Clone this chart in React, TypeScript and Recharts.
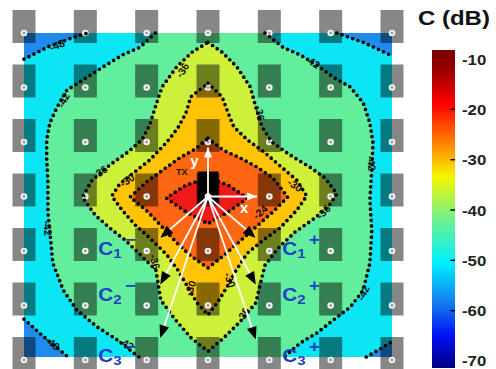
import React from "react";
import {
  ScatterChart,
  Scatter,
  XAxis,
  YAxis,
  ComposedChart,
  Area,
  ReferenceLine,
} from "recharts";

type P = { x: number; y: number };

// element grid (columns / rows of the receiver array, TX at 0,0)
const GRID_COLS = [-3, -2, -1, 0, 1, 2, 3];
const GRID_ROWS = [3, 2, 1, 0, -1, -2, -3];

// coloured field
const FIELD: P[] = [
  { x: -3, y: 3 },
  { x: 3, y: 3 },
  { x: 3, y: -2.945 },
  { x: -3, y: -2.945 },
];

// -48 dB contour, four corners
const C48_TL: P[] = [{ x: -3, y: 2.52 }, { x: -2.6, y: 2.75 }, { x: -2.2, y: 2.92 }, { x: -1.95, y: 3 }];
const C48_TR: P[] = [{ x: 2.1, y: 3 }, { x: 2.55, y: 2.82 }, { x: 3, y: 2.58 }];
const C48_BL: P[] = [{ x: -3, y: -2.25 }, { x: -2.65, y: -2.6 }, { x: -2.28, y: -2.945 }];
const C48_BR: P[] = [{ x: 2.58, y: -2.945 }, { x: 2.8, y: -2.8 }, { x: 3, y: -2.66 }];

// -42 dB contour, left and right branches (top to bottom)
const C42_L: P[] = [
  { x: -0.86, y: 3 }, { x: -1.11, y: 2.74 }, { x: -1.39, y: 2.6 }, { x: -1.71, y: 2.38 },
  { x: -2.04, y: 2.14 }, { x: -2.3, y: 1.95 }, { x: -2.46, y: 1.64 }, { x: -2.58, y: 1.35 },
  { x: -2.63, y: 1.04 }, { x: -2.63, y: 0.67 }, { x: -2.61, y: 0.3 }, { x: -2.61, y: -0.3 },
  { x: -2.58, y: -0.62 }, { x: -2.53, y: -1.22 }, { x: -2.36, y: -1.72 }, { x: -2.14, y: -2.08 },
  { x: -1.81, y: -2.39 }, { x: -1.48, y: -2.63 }, { x: -1.2, y: -2.88 }, { x: -1.12, y: -2.945 },
];
const C42_R: P[] = [
  { x: 0.93, y: 3 }, { x: 1.22, y: 2.74 }, { x: 1.5, y: 2.6 }, { x: 1.78, y: 2.41 },
  { x: 2.04, y: 2.19 }, { x: 2.32, y: 2.01 }, { x: 2.53, y: 1.72 }, { x: 2.64, y: 1.35 },
  { x: 2.69, y: 0.98 }, { x: 2.67, y: 0.49 }, { x: 2.64, y: -0.06 }, { x: 2.67, y: -0.62 },
  { x: 2.64, y: -1.22 }, { x: 2.53, y: -1.72 }, { x: 2.32, y: -2.03 }, { x: 2.04, y: -2.27 },
  { x: 1.78, y: -2.5 }, { x: 1.5, y: -2.69 }, { x: 1.24, y: -2.945 },
];

// -36 dB contour (closed star)
const C36: P[] = [
  { x: 0, y: 2.83 }, { x: 0.23, y: 2.65 }, { x: 0.47, y: 2.38 }, { x: 0.69, y: 2.01 },
  { x: 0.78, y: 1.64 }, { x: 0.88, y: 1.28 }, { x: 1.04, y: 1.0 }, { x: 1.34, y: 0.76 },
  { x: 1.66, y: 0.54 }, { x: 1.91, y: 0.34 }, { x: 2.1, y: 0.05 }, { x: 1.96, y: -0.19 },
  { x: 1.7, y: -0.43 }, { x: 1.42, y: -0.65 }, { x: 1.14, y: -0.95 }, { x: 0.93, y: -1.26 },
  { x: 0.85, y: -1.62 }, { x: 0.78, y: -1.95 }, { x: 0.52, y: -2.3 }, { x: 0.25, y: -2.6 },
  { x: 0, y: -2.84 }, { x: -0.27, y: -2.6 }, { x: -0.54, y: -2.25 }, { x: -0.77, y: -1.9 },
  { x: -0.85, y: -1.35 }, { x: -1.11, y: -1.06 }, { x: -1.35, y: -0.8 }, { x: -1.6, y: -0.58 },
  { x: -1.84, y: -0.34 }, { x: -2.05, y: -0.01 }, { x: -1.89, y: 0.3 }, { x: -1.6, y: 0.58 },
  { x: -1.3, y: 0.82 }, { x: -1.08, y: 1.04 }, { x: -0.95, y: 1.31 }, { x: -0.86, y: 1.64 },
  { x: -0.75, y: 2.01 }, { x: -0.51, y: 2.38 }, { x: -0.26, y: 2.65 },
];

// -30 dB contour
const C30: P[] = [
  { x: 0, y: 2.08 }, { x: 0.23, y: 1.83 }, { x: 0.33, y: 1.53 }, { x: 0.42, y: 1.28 },
  { x: 0.64, y: 1.04 }, { x: 0.91, y: 0.82 }, { x: 1.22, y: 0.52 }, { x: 1.45, y: 0.3 },
  { x: 1.61, y: 0.01 }, { x: 1.45, y: -0.25 }, { x: 1.17, y: -0.58 }, { x: 0.9, y: -0.8 },
  { x: 0.64, y: -1.04 }, { x: 0.46, y: -1.35 }, { x: 0.31, y: -1.66 }, { x: 0.15, y: -1.95 },
  { x: 0, y: -2.17 }, { x: -0.18, y: -1.95 }, { x: -0.33, y: -1.66 }, { x: -0.49, y: -1.35 },
  { x: -0.67, y: -1.07 }, { x: -0.95, y: -0.76 }, { x: -1.19, y: -0.52 }, { x: -1.4, y: -0.25 },
  { x: -1.57, y: 0.01 }, { x: -1.44, y: 0.23 }, { x: -1.22, y: 0.43 }, { x: -0.95, y: 0.67 },
  { x: -0.67, y: 1.0 }, { x: -0.49, y: 1.26 }, { x: -0.36, y: 1.53 }, { x: -0.28, y: 1.83 },
];

// -24 dB contour
const C24: P[] = [
  { x: 0, y: 1.07 }, { x: 0.25, y: 0.85 }, { x: 0.52, y: 0.71 }, { x: 0.8, y: 0.54 },
  { x: 1.06, y: 0.34 }, { x: 1.3, y: -0.01 }, { x: 1.06, y: -0.28 }, { x: 0.8, y: -0.54 },
  { x: 0.52, y: -0.82 }, { x: 0.25, y: -1.09 }, { x: 0, y: -1.31 }, { x: -0.28, y: -1.09 },
  { x: -0.51, y: -0.85 }, { x: -0.73, y: -0.58 }, { x: -0.98, y: -0.28 }, { x: -1.27, y: -0.01 },
  { x: -1.0, y: 0.27 }, { x: -0.73, y: 0.49 }, { x: -0.46, y: 0.71 }, { x: -0.21, y: 0.87 },
];

// -18 dB contour
const C18: P[] = [
  { x: 0, y: 0.34 }, { x: 0.33, y: 0.21 }, { x: 0.64, y: -0.03 }, { x: 0.33, y: -0.28 },
  { x: 0, y: -0.5 }, { x: -0.36, y: -0.28 }, { x: -0.68, y: -0.03 }, { x: -0.36, y: 0.21 },
];

const CONTOUR_LABELS = [
  { x: -2.46, y: 2.78, text: "-48", angle: -22 },
  { x: -2.36, y: 1.77, text: "-42", angle: -62 },
  { x: -0.42, y: 2.32, text: "-36", angle: -58 },
  { x: 1.71, y: 2.47, text: "-42", angle: 32 },
  { x: 0.85, y: 1.53, text: "-36", angle: 80 },
  { x: 2.67, y: 0.61, text: "-42", angle: 85 },
  { x: -1.76, y: 0.45, text: "-36", angle: -35 },
  { x: -1.32, y: 0.3, text: "-30", angle: -35 },
  { x: 1.42, y: 0.21, text: "-30", angle: 35 },
  { x: 1.88, y: -0.28, text: "-36", angle: -45 },
  { x: -2.61, y: -0.58, text: "-42", angle: 85 },
  { x: -1.33, y: -2.7, text: "-42", angle: 30 },
  { x: -2.53, y: -2.69, text: "-48", angle: 40 },
  { x: 2.53, y: -1.77, text: "-42", angle: -65 },
  { x: -0.29, y: -1.68, text: "-30", angle: -70 },
  { x: 0.36, y: -1.53, text: "-30", angle: 70 },
  { x: -0.86, y: -1.2, text: "-36", angle: 75 },
  { x: 0.57, y: -2.17, text: "-36", angle: -60 },
  { x: 0.85, y: -0.28, text: "-24", angle: -40 },
];

const ORIGIN: P = { x: 0, y: 0 };
const AXIS_TIPS: P[] = [{ x: 0.8, y: 0 }, { x: 0, y: 0.9 }];
const LINK_TIPS: P[] = [
  { x: -0.78, y: -0.76 }, { x: -0.78, y: -1.62 }, { x: -0.78, y: -2.6 },
  { x: 0.78, y: -0.76 }, { x: 0.78, y: -1.62 }, { x: 0.78, y: -2.63 },
];
const AXIS_LABELS = [
  { x: 0.52, y: -0.3, text: "x", color: "#ffffff", size: 15 },
  { x: -0.29, y: 0.56, text: "y", color: "#ffffff", size: 15 },
  { x: -0.52, y: 0.39, text: "TX", color: "#1a1a1a", size: 9 },
];
const PAIR_LABELS = [
  { x: -1.79, y: -0.83, idx: "1", sign: "\u2212" },
  { x: -1.79, y: -1.68, idx: "2", sign: "\u2212" },
  { x: -1.79, y: -2.8, idx: "3", sign: "\u2212" },
  { x: 1.21, y: -0.83, idx: "1", sign: "+" },
  { x: 1.21, y: -1.68, idx: "2", sign: "+" },
  { x: 1.21, y: -2.8, idx: "3", sign: "+" },
];

const CBAR_TICKS = [-10, -20, -30, -40, -50, -60, -70];
const CBAR_INNER_TICKS = [-20, -30, -40, -50, -60];
const CBAR_RANGE = [
  { x: 0, r: [-71.4, -8.2] },
  { x: 1, r: [-71.4, -8.2] },
];

const FONT = "Arial, 'Liberation Sans', Helvetica, sans-serif";

const pathOf = (pts: { x: number; y: number }[], closed: boolean) =>
  pts.map((p, i) => `${i ? "L" : "M"}${p.x.toFixed(1)},${p.y.toFixed(1)}`).join("") + (closed ? "Z" : "");

const noDot = () => <g />;

function fillLayer(key: string, pts: P[], color: string) {
  return (
    <Scatter
      key={key}
      data={pts}
      isAnimationActive={false}
      shape={noDot}
      line={(p: any) => <path d={pathOf(p.points, true)} fill={color} stroke="none" />}
    />
  );
}

function dotLayer(key: string, pts: P[], closed: boolean) {
  return (
    <Scatter
      key={key}
      data={pts}
      isAnimationActive={false}
      shape={noDot}
      line={(p: any) => (
        <path
          d={pathOf(p.points, closed)}
          fill="none"
          stroke="#050505"
          strokeWidth={3.7}
          strokeDasharray="0 5.6"
          strokeLinecap="round"
        />
      )}
    />
  );
}

function arrowLayer(key: string, tip: P, shaft: string, head: string, len: number, half: number) {
  return (
    <Scatter
      key={key}
      data={[ORIGIN, tip]}
      isAnimationActive={false}
      shape={noDot}
      line={(p: any) => {
        const [a, b] = p.points;
        const dx = b.x - a.x;
        const dy = b.y - a.y;
        const d = Math.hypot(dx, dy) || 1;
        const ux = dx / d;
        const uy = dy / d;
        const bx = b.x - ux * len;
        const by = b.y - uy * len;
        const pts = `${b.x},${b.y} ${bx - uy * half},${by + ux * half} ${bx + uy * half},${by - ux * half}`;
        return (
          <g>
            <line x1={a.x} y1={a.y} x2={b.x} y2={b.y} stroke={shaft} strokeWidth={1.8} />
            <polygon points={pts} fill={head} />
          </g>
        );
      }}
    />
  );
}

const elementShape = (p: any) => (
  <g>
    <rect x={p.cx - 11.5} y={p.cy - 23} width={23} height={33} fill="#000" fillOpacity={0.47} />
    <circle cx={p.cx} cy={p.cy} r={3.3} fill="#f2f2f2" />
    <circle cx={p.cx} cy={p.cy} r={1.4} fill="#9a9a9a" />
  </g>
);

const txShape = (p: any) => (
  <g>
    <rect x={p.cx - 10.5} y={p.cy - 25} width={21} height={32} fill="#000" />
    <circle cx={p.cx} cy={p.cy} r={3.3} fill="#f2f2f2" />
    <circle cx={p.cx} cy={p.cy} r={1.4} fill="#9a9a9a" />
  </g>
);

const contourLabel = (p: any) => (
  <text
    x={p.cx}
    y={p.cy}
    transform={`rotate(${p.payload.angle} ${p.cx} ${p.cy})`}
    textAnchor="middle"
    dominantBaseline="central"
    fontFamily={FONT}
    fontWeight="bold"
    fontSize={10.5}
    fill="#111"
  >
    {p.payload.text}
  </text>
);

const plainLabel = (p: any) => (
  <text
    x={p.cx}
    y={p.cy}
    fontFamily={FONT}
    fontWeight="bold"
    fontSize={p.payload.size}
    fill={p.payload.color}
  >
    {p.payload.text}
  </text>
);

const pairLabel = (p: any) => (
  <text
    x={p.cx}
    y={p.cy + 13}
    transform={`translate(${p.cx} 0) scale(1.15 1) translate(${-p.cx} 0)`}
    fontFamily={FONT}
    fontWeight="bold"
    fontSize={18}
    fill="#1f3fc6"
  >
    <tspan>C</tspan>
    <tspan fontSize={13} dy={3}>
      {p.payload.idx}
    </tspan>
    <tspan fontSize={16} dx={3} dy={-13}>
      {p.payload.sign}
    </tspan>
  </text>
);

const cbarTick = (p: any) => (
  <text
    x={p.x}
    y={p.y}
    dy={5.5}
    transform={`translate(${p.x} 0) scale(1.12 1) translate(${-p.x} 0)`}
    textAnchor="start"
    fontFamily={FONT}
    fontWeight="bold"
    fontSize={15}
    fill="#222"
  >
    {p.payload.value}
  </text>
);

export default function App() {
  const grid = GRID_ROWS.flatMap((y) => GRID_COLS.map((x) => ({ x, y })));
  return (
    <div
      style={{
        position: "absolute",
        left: 0,
        top: 0,
        width: 496,
        height: 369,
        overflow: "hidden",
        background: "#ffffff",
      }}
    >
      <div style={{ position: "absolute", left: 0, top: 0 }}>
        <ScatterChart width={496} height={369} margin={{ top: 33, right: 104, bottom: 9, left: 24 }}>
          <XAxis type="number" dataKey="x" domain={[-3, 3]} hide />
          <YAxis type="number" dataKey="y" domain={[-3, 3]} hide />

          {fillLayer("field", FIELD, "#0ce6f4")}
          {fillLayer("b1", [...C48_TL, { x: -3, y: 3 }], "#1f8ced")}
          {fillLayer("b2", [...C48_TR, { x: 3, y: 3 }], "#1f8ced")}
          {fillLayer("b3", [...C48_BL, { x: -3, y: -2.945 }], "#1f8ced")}
          {fillLayer("b4", [...C48_BR, { x: 3, y: -2.945 }], "#1f8ced")}
          {fillLayer("g42", [...C42_L, ...[...C42_R].reverse()], "#62ee9c")}
          {fillLayer("y36", C36, "#cdf03a")}
          {fillLayer("o30", C30, "#ffc406")}
          {fillLayer("r24", C24, "#ff6612")}
          {fillLayer("r18", C18, "#ee1a1a")}

          <Scatter data={grid} isAnimationActive={false} shape={elementShape} />

          {dotLayer("d48a", C48_TL, false)}
          {dotLayer("d48b", C48_TR, false)}
          {dotLayer("d48c", C48_BL, false)}
          {dotLayer("d48d", C48_BR, false)}
          {dotLayer("d42l", C42_L, false)}
          {dotLayer("d42r", C42_R, false)}
          {dotLayer("d36", C36, true)}
          {dotLayer("d30", C30, true)}
          {dotLayer("d24", C24, true)}
          {dotLayer("d18", C18, true)}

          <Scatter data={CONTOUR_LABELS} isAnimationActive={false} shape={contourLabel} />
          <Scatter data={[ORIGIN]} isAnimationActive={false} shape={txShape} />

          {LINK_TIPS.map((t, i) => arrowLayer(`link${i}`, t, "#ffffff", "#000000", 13, 5))}
          {AXIS_TIPS.map((t, i) => arrowLayer(`axis${i}`, t, "#ffffff", "#ffffff", 10, 4))}

          <Scatter data={AXIS_LABELS} isAnimationActive={false} shape={plainLabel} />
          <Scatter data={PAIR_LABELS} isAnimationActive={false} shape={pairLabel} />
        </ScatterChart>
      </div>

      <div style={{ position: "absolute", left: 400, top: 0 }}>
        <ComposedChart width={96} height={369} data={CBAR_RANGE} margin={{ top: 50, right: 5, bottom: 1, left: 32 }}>
          <defs>
            <linearGradient id="jetGrad" x1="0" y1="0" x2="0" y2="1">
              <stop offset="0" stopColor="#7a0000" />
              <stop offset="0.06" stopColor="#9a0000" />
              <stop offset="0.17" stopColor="#ff0000" />
              <stop offset="0.29" stopColor="#ff8000" />
              <stop offset="0.4" stopColor="#f6f600" />
              <stop offset="0.53" stopColor="#72f08a" />
              <stop offset="0.67" stopColor="#00f0ff" />
              <stop offset="0.8" stopColor="#1478f0" />
              <stop offset="0.9" stopColor="#0010f5" />
              <stop offset="1" stopColor="#000080" />
            </linearGradient>
          </defs>
          <XAxis type="number" dataKey="x" domain={[0, 1]} hide />
          <YAxis
            orientation="right"
            type="number"
            domain={[-71.4, -8.2]}
            allowDataOverflow
            ticks={CBAR_TICKS}
            interval={0}
            tick={cbarTick}
            tickLine={false}
            axisLine={false}
            tickSize={5}
            tickMargin={2}
            width={36}
          />
          <Area
            type="linear"
            dataKey="r"
            fill="url(#jetGrad)"
            fillOpacity={1}
            stroke="none"
            isAnimationActive={false}
          />
          {CBAR_INNER_TICKS.map((v) => (
            <ReferenceLine
              key={v}
              segment={[
                { x: 0.8, y: v },
                { x: 1, y: v },
              ]}
              stroke="#000"
              strokeWidth={1.5}
            />
          ))}
        </ComposedChart>
      </div>

      <svg
        width={496}
        height={369}
        style={{ position: "absolute", left: 0, top: 0, pointerEvents: "none" }}
      >
        <text
          x={418}
          y={25}
          transform="translate(418 0) scale(1.2 1) translate(-418 0)"
          fontFamily={FONT}
          fontWeight="bold"
          fontSize={20}
          fill="#111"
        >
          C (dB)
        </text>
      </svg>
    </div>
  );
}
